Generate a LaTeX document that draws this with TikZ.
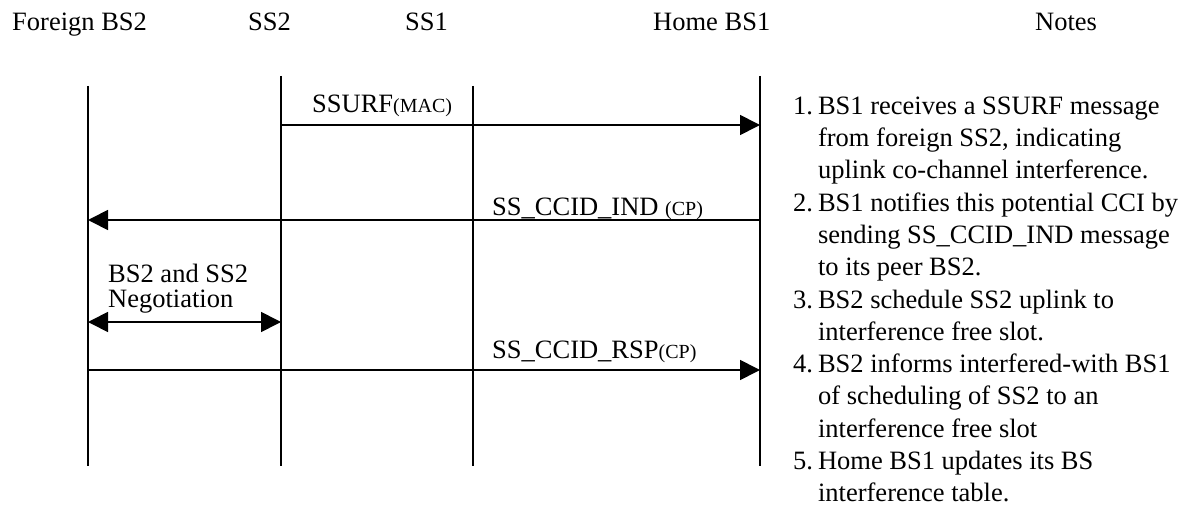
\documentclass[tikz,border=0pt]{standalone}
\usepackage{fontspec}
\setmainfont{Liberation Serif}
\usetikzlibrary{arrows.meta}
\newcommand{\smalltag}[1]{{\fontsize{20}{24}\selectfont #1}}
\begin{document}
\begin{tikzpicture}[x=1pt,y=-1pt,
  lifeline/.style={line width=1.7pt},
  msg/.style={line width=1.7pt,-{Triangle[length=20pt,width=20pt]}},
  dmsg/.style={line width=1.7pt,{Triangle[length=20pt,width=20pt]}-{Triangle[length=20pt,width=20pt]}},
  txt/.style={inner sep=0pt,anchor=base west,font=\fontsize{26.5}{32.3}\selectfont}]
\useasboundingbox (0,0) rectangle (1185,513);

% column headings
\node[txt] (hfb) at (12,31) {Foreign BS2};
\node[txt] (hss2) at (248,31) {SS2};
\node[txt] (hss1) at (405,31) {SS1};
\node[txt] (hhb) at (653,31) {Home BS1};
\node[txt] (hnotes) at (1035,31) {Notes};

% lifelines
\coordinate (fbT) at (88,86);  \coordinate (fbB) at (88,466);
\coordinate (s2T) at (281,76); \coordinate (s2B) at (281,466);
\coordinate (s1T) at (473,86); \coordinate (s1B) at (473,466);
\coordinate (hbT) at (760,76); \coordinate (hbB) at (760,466);
\draw[lifeline] (fbT) -- (fbB);
\draw[lifeline] (s2T) -- (s2B);
\draw[lifeline] (s1T) -- (s1B);
\draw[lifeline] (hbT) -- (hbB);

% message end points on the lifelines
\coordinate (m1a) at (281,125); \coordinate (m1b) at (760,125);
\coordinate (m2a) at (760,220); \coordinate (m2b) at (88,220);
\coordinate (m3a) at (88,322);  \coordinate (m3b) at (281,322);
\coordinate (m4a) at (88,370);  \coordinate (m4b) at (760,370);

% messages
\draw[msg] (m1a) -- (m1b);
\draw[msg] (m2a) -- (m2b);
\draw[dmsg] (m3a) -- (m3b);
\draw[msg] (m4a) -- (m4b);

% message labels (the two-line label is placed by its last baseline)
\node[txt] (l1) at (312,113) {SSURF\smalltag{(MAC)}};
\node[txt] (l2) at (492,215) {SS\_CCID\_IND \smalltag{(CP)}};
\node[txt,align=left,font=\fontsize{26.5}{25}\selectfont] (l3) at (108,307) {BS2 and SS2\\Negotiation};
\node[txt] (l4) at (492,358) {SS\_CCID\_RSP\smalltag{(CP)}};

% notes
\node[inner sep=0pt,anchor=north west,font=\fontsize{26.5}{32.3}\selectfont] (notes) at (793,91.4) {%
\begin{tabular}{@{}r@{\hspace{5pt}}l@{}}
1. & BS1 receives a SSURF message\\
   & from foreign SS2, indicating\\
   & uplink co-channel interference.\\
2. & BS1 notifies this potential CCI by\\
   & sending SS\_CCID\_IND message\\
   & to its peer BS2.\\
3. & BS2 schedule SS2 uplink to\\
   & interference free slot.\\
4. & BS2 informs interfered-with BS1\\
   & of scheduling of SS2 to an\\
   & interference free slot\\
5. & Home BS1 updates its BS\\
   & interference table.
\end{tabular}};
\end{tikzpicture}
\end{document}
